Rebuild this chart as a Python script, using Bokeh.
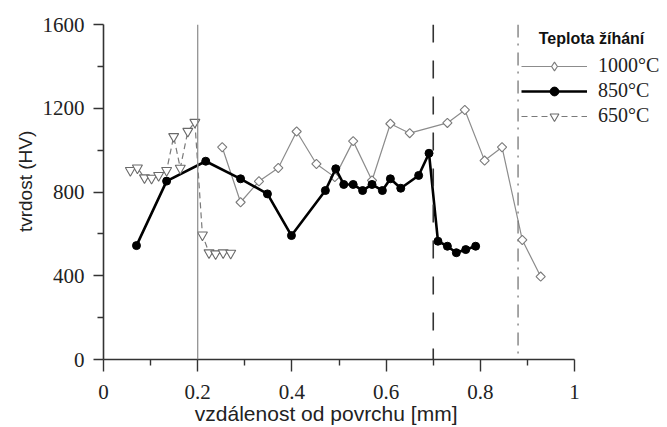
from bokeh.plotting import figure
from bokeh.models import Span, Legend, LegendItem, Range1d, FixedTicker
from bokeh.embed import file_html
from bokeh.resources import INLINE
import math

# ---- data ----
x_1000 = [0.252, 0.291, 0.330, 0.371, 0.410, 0.452, 0.491, 0.530, 0.570, 0.609,
          0.650, 0.730, 0.767, 0.809, 0.846, 0.889, 0.928]
y_1000 = [1014, 751, 851, 915, 1089, 934, 871, 1043, 855, 1126,
          1081, 1130, 1192, 950, 1014, 571, 396]

x_850 = [0.070, 0.134, 0.217, 0.291, 0.348, 0.399, 0.471, 0.493, 0.510, 0.530,
         0.550, 0.570, 0.592, 0.609, 0.631, 0.669, 0.691, 0.710, 0.730, 0.749,
         0.769, 0.790]
y_850 = [544, 852, 947, 863, 791, 592, 807, 911, 836, 836,
         807, 836, 807, 863, 818, 879, 985, 565, 541, 510,
         525, 541]

x_650 = [0.057, 0.072, 0.087, 0.102, 0.117, 0.134, 0.149, 0.163, 0.179, 0.194,
         0.210, 0.224, 0.238, 0.254, 0.270]
y_650 = [903, 915, 868, 866, 879, 903, 1065, 914, 1090, 1133,
         595, 510, 505, 510, 508]

series_labels = ["1000°C", "850°C", "650°C"]
legend_title = "Teplota žíhání"

x_ticks = [0, 0.2, 0.4, 0.6, 0.8, 1]
x_tick_labels = ["0", "0.2", "0.4", "0.6", "0.8", "1"]
x_minor = [0.1, 0.3, 0.5, 0.7, 0.9]
y_ticks = [0, 400, 800, 1200, 1600]
y_tick_labels = ["0", "400", "800", "1200", "1600"]
y_minor = [200, 600, 1000, 1400]

boundaries = [0.2, 0.7, 0.88]

x_title = "vzdálenost od povrchu [mm]"
y_title = "tvrdost (HV)"

NBSP = "\u00a0"

# ---- figure ----
# frame is wider than the x axis (axis bounded to 0..1) so the legend fits inside
p = figure(width=667, height=427, x_range=Range1d(0, 1.193), y_range=Range1d(0, 1600),
           output_backend="svg", toolbar_location=None,
           min_border_left=103, min_border_right=2, min_border_top=24, min_border_bottom=68)
p.outline_line_color = None
p.grid.visible = False
p.background_fill_color = "white"

# padding with non-breaking spaces re-centres the titles under the bounded axes
axis_cfg = [
    (p.xaxis[0], x_ticks, x_tick_labels, x_minor, x_title + NBSP * 20, 12, 6, 13, "21px", 0),
    (p.yaxis[0], y_ticks, y_tick_labels, y_minor, NBSP * 4 + y_title, 10, 6, 9, "19px", 4),
]
for ax, ticks, labels, minor, title, mt, mnt, stand, tsize, lstand in axis_cfg:
    ax.ticker = FixedTicker(ticks=ticks, minor_ticks=minor)
    ax.major_label_overrides = {t: l for t, l in zip(ticks, labels)}
    ax.bounds = (ticks[0], ticks[-1])
    ax.axis_line_color = "#333333"
    ax.axis_line_width = 1.6
    ax.major_tick_line_color = "#333333"
    ax.minor_tick_line_color = "#333333"
    ax.major_tick_line_width = 1.4
    ax.minor_tick_line_width = 1.4
    ax.major_tick_in = 0
    ax.major_tick_out = mt
    ax.minor_tick_in = 0
    ax.minor_tick_out = mnt
    ax.major_label_text_font = "Liberation Serif"
    ax.major_label_text_font_size = "21px"
    ax.major_label_text_color = "#222222"
    ax.major_label_standoff = stand
    ax.axis_label = title
    ax.axis_label_text_font = "Liberation Sans"
    ax.axis_label_text_font_style = "normal"
    ax.axis_label_text_font_size = tsize
    ax.axis_label_text_color = "#222222"
    ax.axis_label_standoff = lstand

# vertical boundary lines
span_styles = [
    dict(line_color="#8a8a8a", line_width=1.2, line_dash="solid"),
    dict(line_color="#333333", line_width=1.6, line_dash="18 18"),
    dict(line_color="#777777", line_width=1.3, line_dash="13 6 2 7"),
]
for loc, st in zip(boundaries, span_styles):
    p.add_layout(Span(location=loc, dimension="height", **st))

# series
l1 = p.line(x_1000, y_1000, line_color="#8c8c8c", line_width=1.2)
s1 = p.scatter(x_1000, y_1000, marker="square", angle=math.pi / 4, size=6.5,
               line_color="#7a7a7a", fill_color="white", line_width=1.1)
# legend-only marker (a single NaN point, never drawn in the plot) so the legend shows a diamond
d1 = p.scatter([float("nan")], [float("nan")], marker="diamond", size=10,
               line_color="#7a7a7a", fill_color="white", line_width=1.1)

l2 = p.line(x_850, y_850, line_color="black", line_width=2.6)
s2 = p.scatter(x_850, y_850, marker="circle", size=8, line_color="black", fill_color="black")

l3 = p.line(x_650, y_650, line_color="#7a7a7a", line_width=1.2, line_dash="6 4")
s3 = p.scatter(x_650, y_650, marker="inverted_triangle", size=10,
               line_color="#6a6a6a", fill_color="white", line_width=1.1)

legend = Legend(
    items=[LegendItem(label=series_labels[0], renderers=[l1, d1]),
           LegendItem(label=series_labels[1], renderers=[l2, s2]),
           LegendItem(label=series_labels[2], renderers=[l3, s3])],
    location=(418, 232), title=NBSP * 4 + legend_title,
    title_text_font="Liberation Sans", title_text_font_style="bold",
    title_text_font_size="16px", title_standoff=6, title_text_color="#111111",
    label_text_font="Liberation Serif", label_text_font_size="20px",
    label_text_color="#222222",
    glyph_width=66, glyph_height=22, label_height=22, label_standoff=11,
    spacing=2, padding=4, margin=0,
    border_line_color=None, background_fill_alpha=0)
p.add_layout(legend)

open("out.html", "w").write(file_html(p, INLINE))
